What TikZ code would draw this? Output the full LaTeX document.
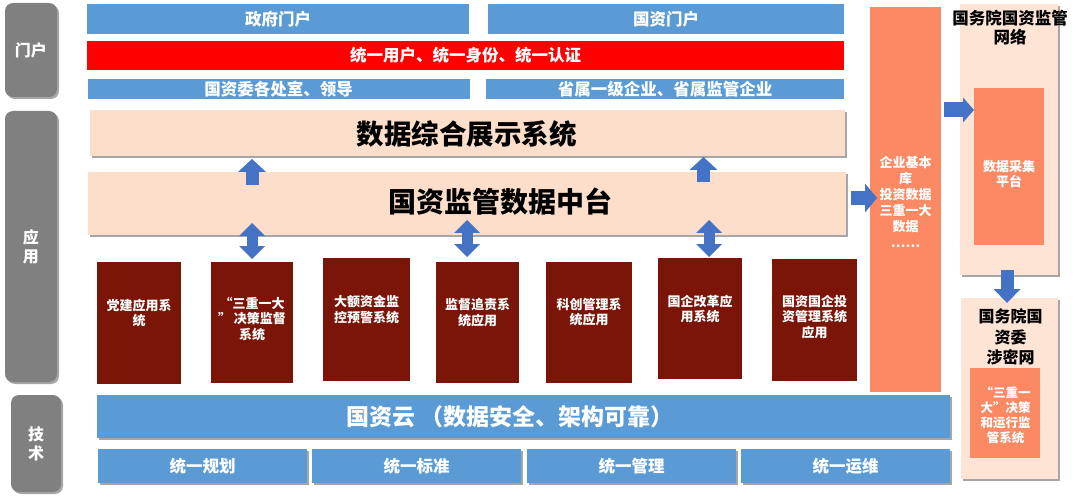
\documentclass[tikz,border=0pt]{standalone}
\usepackage{fontspec}
\setmainfont{Noto Sans CJK SC}
\usetikzlibrary{shadows,arrows.meta,calc}
\definecolor{pblue}{RGB}{91,155,213}
\definecolor{ablue}{RGB}{68,114,196}
\definecolor{peach}{RGB}{252,222,202}
\definecolor{peachl}{RGB}{253,228,212}
\definecolor{salmon}{RGB}{250,137,100}
\definecolor{dred}{RGB}{122,21,8}
\definecolor{lgray}{RGB}{128,128,128}
\definecolor{fred}{RGB}{255,0,0}
\tikzset{
  sz/.style 2 args={minimum width=#1pt, minimum height=#2pt},
  shad/.style={drop shadow={shadow xshift=2pt, shadow yshift=-2pt, opacity=0.35, fill=black}},
  glab/.style={rectangle, fill=lgray, rounded corners=8pt, text=white, align=center,
    font=\bfseries\fontsize{16}{19}\selectfont, shad},
  bluebar/.style={rectangle, fill=pblue, text=white, font=\bfseries\fontsize{16.5}{19}\selectfont},
  redbar/.style={rectangle, fill=fred, text=white, font=\bfseries\fontsize{16.5}{19}\selectfont},
  peachbar/.style={rectangle, fill=peach, shad},
  bigtext/.style={text=black, font=\bfseries\fontsize{#1}{30}\selectfont},
  dbox/.style={rectangle, fill=dred},
  dtext/.style={text=white, align=center, font=\bfseries\fontsize{13}{15.5}\selectfont},
  sbox/.style={rectangle, fill=salmon},
  stext/.style={text=white, align=center, font=\bfseries\fontsize{13}{16}\selectfont},
  rbox/.style={rectangle, fill=peachl, shad},
  rtitle/.style={text=black, align=center, font=\bfseries\fontsize{16.5}{19.5}\selectfont},
  uparr/.style={draw=ablue, line width=13pt, -{Triangle[length=13pt,width=28pt,line width=0pt]}},
  dblarr/.style={draw=ablue, line width=11pt, {Triangle[length=13pt,width=26pt,line width=0pt]}-{Triangle[length=13pt,width=26pt,line width=0pt]}},
}
\begin{document}
\begin{tikzpicture}[x=1pt,y=-1pt, every node/.style={inner sep=0pt, outer sep=0pt}]
\fill[white] (0,0) rectangle (1080,500);
\useasboundingbox (0,0) rectangle (1080,500);

% left labels
\node[glab, sz={52}{94}] (gmh) at (31,50) {门户};
\node[glab, sz={52}{271}] (gyy) at (31,246.5) {应\\用};
\node[glab, sz={50}{97}] (gjs) at (36,443.5) {技\\术};

% portal
\node[bluebar, sz={382}{30}] (zf) at (278,19.5) {政府门户};
\node[bluebar, sz={356}{30}] (gz) at (666,19.5) {国资门户};
\node[redbar, sz={757}{29}] (tyr) at (465.5,55.5) {统一用户、统一身份、统一认证};
\node[bluebar, sz={382}{20}] (u1) at (278.5,89) {国资委各处室、领导};
\node[bluebar, sz={358}{20}] (u2) at (665,89) {省属一级企业、省属监管企业};

% application
\node[peachbar, sz={755}{46}] (zs) at (467.5,133) {};
\node[bigtext=27.5] (zst) at (466.5,134.5) {数据综合展示系统};
\node[peachbar, sz={758}{63}] (zt) at (467,203.5) {};
\node[bigtext=28] (ztt) at (500,202) {国资监管数据中台};

\node[dbox, sz={84}{122}] (s1) at (139,323) {};
\node[dbox, sz={82}{121}] (s2) at (252,322.5) {};
\node[dbox, sz={87}{123}] (s3) at (366.5,319.5) {};
\node[dbox, sz={83}{121}] (s4) at (477.5,322.5) {};
\node[dbox, sz={86}{121}] (s5) at (589,322.5) {};
\node[dbox, sz={84}{121}] (s6) at (700,318.5) {};
\node[dbox, sz={85}{122}] (s7) at (814.5,320) {};
\node[dtext] (t1) at (139,313) {党建应用系\\统};
\node[dtext] (t2) at (252,319) {“三重一大\\” 决策监督\\系统};
\node[dtext] (t3) at (366.5,309.5) {大额资金监\\控预警系统};
\node[dtext] (t4) at (477.5,312.5) {监督追责系\\统应用};
\node[dtext] (t5) at (589,312) {科创管理系\\统应用};
\node[dtext] (t6) at (700,309) {国企改革应\\用系统};
\node[dtext] (t7) at (814.5,317) {国资国企投\\资管理系统\\应用};

% technology
\node[bluebar, sz={853}{43}, shad] (yun) at (523.5,416.5) {};
\node[text=white, font=\bfseries\fontsize{23}{26}\selectfont] (yunt) at (510,417) {国资云 （数据安全、架构可靠）};
\node[bluebar, sz={209}{34}, shad] (b1) at (202.5,466) {统一规划};
\node[bluebar, sz={209}{34}, shad] (b2) at (416.5,466) {统一标准};
\node[bluebar, sz={209}{34}, shad] (b3) at (631.5,466) {统一管理};
\node[bluebar, sz={209}{34}, shad] (b4) at (845.5,466) {统一运维};

% data column
\node[sbox, sz={71}{385}] (ob) at (905.5,199.5) {};
\node[stext] (obt) at (905.5,202) {企业基本\\库\\投资数据\\三重一大\\数据\\……};

% right boxes
\node[rbox, sz={98}{271}] (nb) at (1009,139.5) {};
\node[rtitle] (nbt) at (1010,27.5) {国务院国资监管\\网络};
\node[sbox, sz={70}{157}] (cj) at (1009,166.5) {};
\node[stext, font=\bfseries\fontsize{13}{15}\selectfont] (cjt) at (1009,174.5) {数据采集\\平台};

\node[rbox, sz={97}{181}] (sb) at (1009.5,388.5) {};
\node[rtitle, font=\bfseries\fontsize{16}{20.5}\selectfont] (sbt) at (1010.5,337) {国务院国\\资委\\涉密网};
\node[sbox, sz={70}{90}] (sm) at (1005,413) {};
\node[stext, font=\bfseries\fontsize{12.5}{15}\selectfont] (smt) at (1005.5,415) {“三重一\\大”决策\\和运行监\\管系统};

% arrows
\coordinate (ax1) at (252,0);
\coordinate (ax2) at (703.5,0);
\coordinate (dx2) at (467,0);
\coordinate (dx3) at (709,0);
\coordinate (dx4) at (1007,0);
\coordinate (ry1) at (0,198);
\coordinate (ry2) at (0,110);

\draw[uparr] ($(zt.north -| ax1)+(0,13)$) -- ($(zs.south -| ax1)+(0,3)$);
\draw[uparr] ($(zt.north -| ax2)+(0,10)$) -- ($(zs.south -| ax2)+(0,1)$);
\draw[dblarr] ($(s2.north -| ax1)+(0,-3)$) -- ($(zt.south -| ax1)+(0,-12)$);
\draw[dblarr] ($(s4.north -| dx2)+(0,-5)$) -- ($(zt.south -| dx2)+(0,-15)$);
\draw[dblarr] ($(s6.north -| dx3)+(0,-1)$) -- ($(zt.south -| dx3)+(0,-15)$);
\draw[draw=ablue, line width=14pt, -{Triangle[length=12pt,width=29pt,line width=0pt]}]
  ($(zt.east |- ry1)+(5,0)$) -- ($(ob.west |- ry1)+(7,0)$);
\draw[draw=ablue, line width=15pt, -{Triangle[length=11pt,width=25pt,line width=0pt]}]
  ($(ob.east |- ry2)+(3,0)$) -- (cj.west |- ry2);
\draw[draw=ablue, line width=13pt, -{Triangle[length=14pt,width=27pt,line width=0pt]}]
  ($(nb.south -| dx4)+(0,-5)$) -- ($(sb.north -| dx4)+(0,5)$);
\end{tikzpicture}
\end{document}
